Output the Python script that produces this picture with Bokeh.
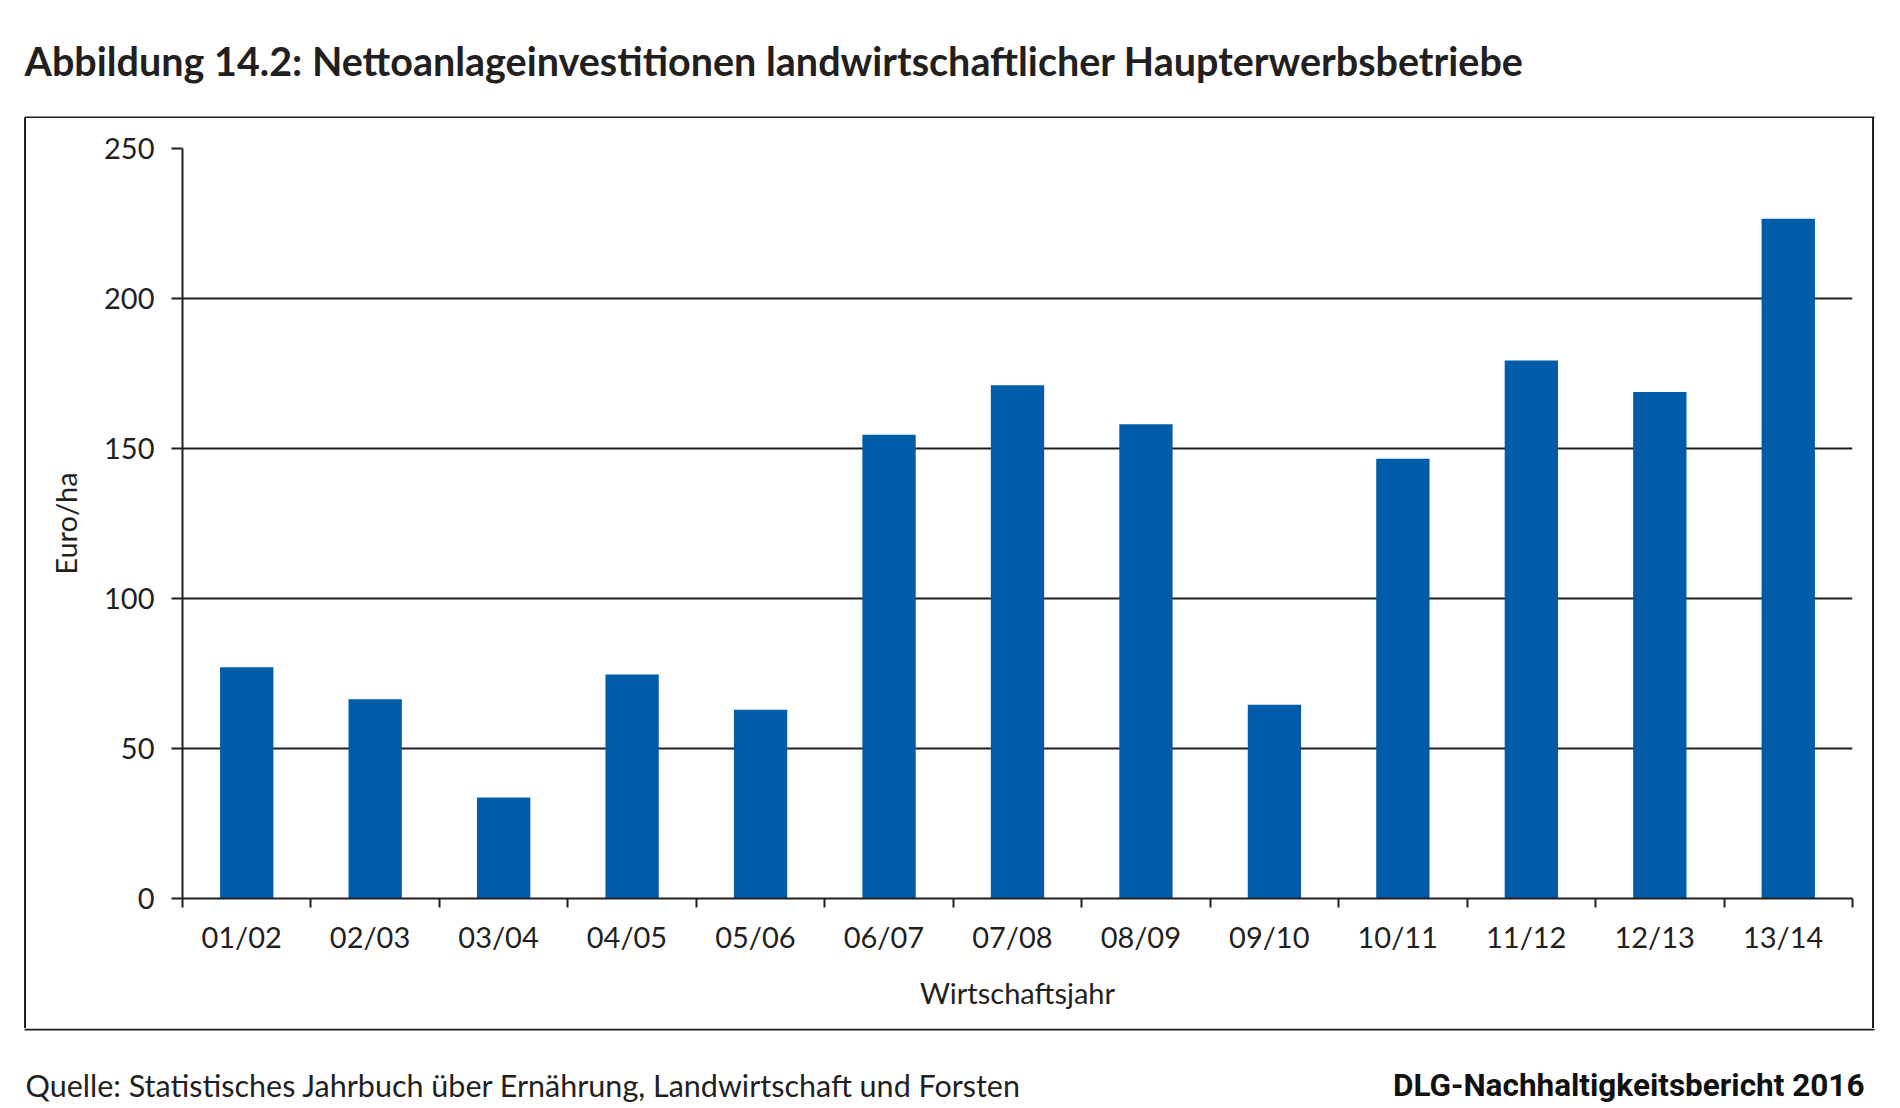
from bokeh.plotting import figure
from bokeh.models import FixedTicker, Range1d, ColumnDataSource, Div, Spacer
from bokeh.layouts import column, row
from bokeh.core.properties import value
from bokeh.embed import file_html
from bokeh.resources import INLINE

# ---- data ----
categories = ["01/02", "02/03", "03/04", "04/05", "05/06", "06/07", "07/08",
              "08/09", "09/10", "10/11", "11/12", "12/13", "13/14"]
values = [77.1, 66.4, 33.7, 74.7, 62.9, 154.6, 171.1, 158.1, 64.6, 146.6, 179.3, 168.8, 226.6]
y_ticks = [0, 50, 100, 150, 200, 250]
title_text = "Abbildung 14.2: Nettoanlageinvestitionen landwirtschaftlicher Haupterwerbsbetriebe"
source_text = "Quelle: Statistisches Jahrbuch über Ernährung, Landwirtschaft und Forsten"
brand_text = "DLG-Nachhaltigkeitsbericht 2016"
x_label = "Wirtschaftsjahr"
y_label = "Euro/ha"

FONT = "Lato"
TXT = "#231f20"
BAR = "#005ca9"

W = 1892
TOP_H = 118            # title strip (box top line drawn at its bottom)
MID_H = 910            # chart strip
FOOT_H = 78            # footer strip (box bottom line drawn at its top)
BOX_L, BOX_R = 24, 1874  # outer box edges (px)
LINE_W = 2
MAIN_X0 = BOX_L + LINE_W
MAIN_W = (BOX_R - LINE_W) - MAIN_X0


def blank_fig(w, h):
    f = figure(width=w, height=h, output_backend="svg", toolbar_location=None,
               x_range=Range1d(0, w), y_range=Range1d(h, 0),
               min_border=0, x_axis_type=None, y_axis_type=None)
    f.outline_line_color = None
    f.xgrid.visible = False
    f.ygrid.visible = False
    f.border_fill_color = "white"
    f.background_fill_color = "white"
    return f


def vrule(h):
    return Div(text="", width=LINE_W, height=h,
               styles={"background-color": TXT, "margin": "0", "padding": "0"})


# ---- title strip ----
pt = blank_fig(W, TOP_H)
pt.text(x=[24], y=[60], text=[title_text], text_font=value(FONT), text_font_style="bold",
        text_font_size="39.5px", text_color=TXT, text_baseline="alphabetic", text_align="left")
pt.line(x=[BOX_L, BOX_R], y=[TOP_H - 1, TOP_H - 1], line_color=TXT, line_width=LINE_W)

# ---- main chart ----
n = len(categories)
centers = [i + 0.5 for i in range(n)]
label_shift = -0.04  # category labels sit slightly left of the bar centres
label_pos = [c + label_shift for c in centers]
src = ColumnDataSource(dict(x=centers, top=values, cat=categories))

p = figure(width=MAIN_W, height=MID_H, output_backend="svg", toolbar_location=None,
           x_range=Range1d(0, n), y_range=Range1d(0, 250),
           min_border_left=182 - MAIN_X0, min_border_right=(BOX_R - LINE_W) - 1852,
           min_border_top=148 - TOP_H, min_border_bottom=(TOP_H + MID_H) - 898)
p.outline_line_color = None
p.background_fill_color = "white"
p.border_fill_color = "white"

p.vbar(x="x", top="top", width=0.415, source=src, fill_color=BAR, line_color=None)

xa = p.xaxis[0]
xa.ticker = FixedTicker(ticks=label_pos, minor_ticks=list(range(n + 1)))
xa.major_label_overrides = {c: lab for c, lab in zip(label_pos, categories)}
xa.major_tick_line_color = None
xa.major_tick_out = 0
xa.major_tick_in = 0
xa.minor_tick_line_color = TXT
xa.minor_tick_line_width = 2
xa.minor_tick_out = 9
xa.minor_tick_in = 0
xa.axis_line_color = TXT
xa.axis_line_width = 2
xa.major_label_text_font = FONT
xa.major_label_text_font_size = "29px"
xa.major_label_text_color = TXT
xa.major_label_standoff = 11
xa.axis_label = x_label
xa.axis_label_text_font = FONT
xa.axis_label_text_font_style = "normal"
xa.axis_label_text_font_size = "29px"
xa.axis_label_text_color = TXT
xa.axis_label_standoff = 18

ya = p.yaxis[0]
ya.ticker = FixedTicker(ticks=y_ticks, minor_ticks=[])
ya.major_tick_line_color = TXT
ya.major_tick_line_width = 2
ya.major_tick_out = 11
ya.major_tick_in = 0
ya.minor_tick_line_color = None
ya.axis_line_color = TXT
ya.axis_line_width = 2
ya.major_label_text_font = FONT
ya.major_label_text_font_size = "29px"
ya.major_label_text_color = TXT
ya.major_label_standoff = 17
ya.axis_label = y_label
ya.axis_label_text_font = FONT
ya.axis_label_text_font_style = "normal"
ya.axis_label_text_font_size = "29px"
ya.axis_label_text_color = TXT
ya.axis_label_standoff = 18

p.xgrid.grid_line_color = None
p.ygrid.grid_line_color = TXT
p.ygrid.grid_line_width = 2
p.ygrid.ticker = FixedTicker(ticks=y_ticks[1:])

# ---- footer strip ----
pf = blank_fig(W, FOOT_H)
pf.line(x=[BOX_L, BOX_R], y=[1, 1], line_color=TXT, line_width=LINE_W)
pf.text(x=[25], y=[56], text=[source_text], text_font=value(FONT),
        text_font_size="30.5px", text_color=TXT, text_baseline="alphabetic", text_align="left")
pf.text(x=[1864], y=[57], text=[brand_text], text_font=value("Roboto"), text_font_style="bold",
        text_font_size="31.5px", text_color="#111111", text_baseline="alphabetic", text_align="right")

middle = row(Spacer(width=BOX_L, height=MID_H), vrule(MID_H), p, vrule(MID_H), spacing=0)
layout = column(pt, middle, pf, spacing=0)

open("out.html", "w").write(file_html(layout, INLINE))
